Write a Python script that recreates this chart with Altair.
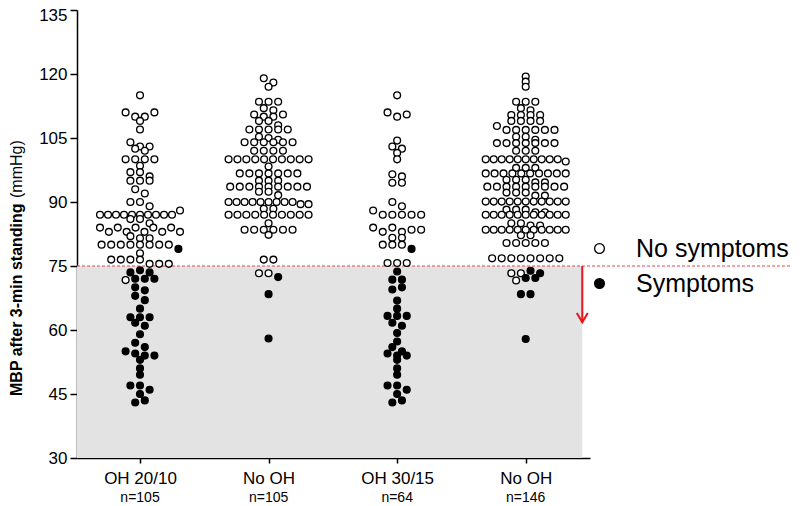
import altair as alt
import pandas as pd

# ---------------- data ----------------
groups = ["OH 20/10", "No OH", "OH 30/15", "No OH"]
n_labels = ["n=105", "n=105", "n=64", "n=146"]
status_names = ["No symptoms", "Symptoms"]

g1_open = [115, 111, 110, 110, 111, 109, 107, 104, 103, 102.5, 103, 102, 100, 100, 100, 100, 98.5, 97, 97, 96,
           95, 95, 95, 93, 92, 90, 90, 89,
           87, 87, 87, 87, 87, 87, 87, 87, 87, 87, 88, 86, 86, 85,
           84, 83, 84, 83, 84, 83, 84, 83, 84, 83, 82, 81.5, 81.5,
           80, 80, 80, 80, 80, 80, 80, 80, 78, 76.5, 76.5, 76.5, 76.5, 75.5, 75.5, 75.5, 71.7]
g1_filled = [79, 73.5, 74, 73.5, 72, 72, 72, 70, 69.3, 68, 67, 65, 63, 63, 63, 61.7, 61, 59, 57, 56, 55, 54.5,
             54, 54, 53, 51, 49.5, 47, 47, 46, 45, 43, 43.5]

g2_open = [119, 118, 117, 113.5, 113.5, 113.5, 112, 111.5, 110.5, 110, 110, 110.5, 109, 109, 108,
           107, 107, 107, 107, 107, 105.3, 105, 104.6,
           104, 104, 104, 104, 104, 104, 102, 102, 102, 102,
           100, 100, 100, 100, 100, 100, 100, 100, 100, 100, 98.3,
           96.7, 96.7, 96.7, 96.7, 96.7, 96.7, 96.7, 95, 95, 95,
           93.6, 93.6, 93.6, 93.6, 93.6, 93.6, 93.6, 93.6, 93.6, 92.4, 92.4, 91.6,
           90, 90, 90, 90, 90, 90, 90, 90, 90, 89.5, 89.5, 88.4, 88.4,
           87, 87, 87, 87, 87, 87, 87, 87, 87, 87, 85,
           83.5, 83.5, 83.5, 83.5, 83.5, 83.5, 82.3, 76.5, 76.5, 73.3, 73.3]
g2_filled = [72.4, 68.4, 58]

g3_open = [115, 111, 110, 110.5, 104.4, 103, 102.5, 101.5, 100, 96.5, 96, 94.5, 94.5, 90, 89, 88,
           87, 87, 87, 87, 87, 84, 83, 84, 83, 83.5, 83.5, 81.6, 81.6, 80, 80, 80, 75.7, 75.7, 75.7]
g3_filled = [79, 73.7, 71.8, 71.8, 69.5, 70, 66.9, 65, 63.3, 63.3, 63.3, 61.7, 61, 59.3, 57.3, 56, 55,
             54.5, 54, 54, 53, 51, 49.5, 47, 47, 46, 45, 43, 43.5]

g4_open = [119.4, 118.2, 117, 113.5, 113.5, 113.5, 112, 111.5, 110.4, 110.4, 110.4, 110.4,
           109, 109, 109, 109, 107.8, 106.9, 106.9, 106.9, 106.9, 106.9, 106.9, 105.3, 105.3, 104.6,
           103.8, 103.8, 103.8, 103.8, 103.8, 103.8, 103.8, 102, 102, 102,
           100, 100, 100, 100, 100, 100, 100, 100, 100, 100, 99.5, 98, 98, 98,
           96.7, 96.7, 96.7, 96.7, 96.7, 96.7, 96.7, 96.7, 96.7, 96.7, 95.2, 95.2, 95.2, 94.6, 94.6,
           93.6, 93.6, 93.6, 93.6, 93.6, 93.6, 93.6, 93.6, 93.6, 92.2, 92.2, 92.2, 91.5, 91.5,
           90.1, 90.1, 90.1, 90.1, 90.1, 90.1, 90.1, 90.1, 90.1, 90.1, 90.1, 88.2, 88.2, 88.2, 87.6, 87.6,
           87, 87, 87, 87, 87, 87, 87, 87, 87, 87, 87, 85, 85, 84.5, 84.5,
           83.5, 83.5, 83.5, 83.5, 83.5, 83.5, 83.5, 83.5, 83.5, 83.5, 83.5, 82.2, 82.2,
           80.4, 80.4, 80.4, 80.4, 80.4, 76.8, 76.8, 76.8, 76.8, 76.8, 76.8, 76.8, 76.8,
           73.3, 73.3, 71.6]
g4_filled = [73.9, 73.3, 72.2, 72.2, 68.4, 68.4, 57.9]

open_sets = [g1_open, g2_open, g3_open, g4_open]
filled_sets = [g1_filled, g2_filled, g3_filled, g4_filled]

threshold = [75]
shade_x = [-0.49, 3.44]
shade_y = [30, 75]
arrow_y = [75, 61.8]

# ---------------- layout constants ----------------
W, H = 513, 448
X_MIN, X_MAX = -0.49, 3.5
Y_MIN, Y_MAX = 30, 135
PX_X = W / (X_MAX - X_MIN)
D_MAX = 9.6       # preferred horizontal spacing of symbols within a row (px)
ROW_MAX = 80.0    # widest a row may get (px, centre to centre)
ROW_BIN = 1.05    # values within this range (mmHg) share a row


def row_layout(vals):
    """GraphPad-style scatter: close values share a row and spread sideways."""
    order = sorted(range(len(vals)), key=lambda i: (-vals[i], i))
    rows_, cur, start = [], [], None
    for i in order:
        if cur and start - vals[i] > ROW_BIN:
            rows_.append(cur)
            cur = []
        if not cur:
            start = vals[i]
        cur.append(i)
    if cur:
        rows_.append(cur)
    offs = [0.0] * len(vals)
    for r in rows_:
        r = sorted(r)
        n = len(r)
        d = D_MAX if n < 2 else min(D_MAX, ROW_MAX / (n - 1))
        for k, i in enumerate(r):
            offs[i] = (k - (n - 1) / 2) * d
    return offs


recs = []
for gi in range(4):
    vals = list(open_sets[gi]) + list(filled_sets[gi])
    stat = [status_names[0]] * len(open_sets[gi]) + [status_names[1]] * len(filled_sets[gi])
    offs = row_layout(vals)
    for v, s, o in zip(vals, stat, offs):
        recs.append({"gx": gi + o / PX_X, "mbp": v, "status": s})
pts = pd.DataFrame(recs)

FONT = "Liberation Sans"

xscale = alt.Scale(domain=[X_MIN, X_MAX], nice=False, zero=False)
yscale = alt.Scale(domain=[Y_MIN, Y_MAX], nice=False, zero=False)

label_expr = "[" + ",".join("'%s'" % g for g in groups) + "][round(datum.value)]"

shade = alt.Chart(pd.DataFrame({"x": [shade_x[0]], "x2": [shade_x[1]], "y": [shade_y[0]], "y2": [shade_y[1]]})).mark_rect(
    color="#e3e3e3").encode(
    x=alt.X("x:Q", scale=xscale, axis=alt.Axis(values=[0, 1, 2, 3], labelExpr=label_expr, title=None,
                                               grid=False, labelFontSize=17, labelFont=FONT, labelColor="black",
                                               tickSize=5, tickWidth=1.5, tickColor="black", domainColor="black",
                                               domainWidth=1.5, labelPadding=7, labelFlush=False)),
    x2="x2:Q",
    y=alt.Y("y:Q", scale=yscale, axis=alt.Axis(values=[30, 45, 60, 75, 90, 105, 120, 135], title=None, grid=False,
                                               labelFontSize=17, labelFont=FONT, labelColor="black",
                                               tickSize=7, tickWidth=1.5, tickColor="black", domainColor="black",
                                               domainWidth=1.5, labelPadding=3,
                                               labelOffset={"condition": {"test": "datum.value == 135", "value": 5},
                                                            "value": 0})),
    y2="y2:Q",
)

dash = alt.Chart(pd.DataFrame({"y": threshold})).mark_rule(
    color="#e2474f", strokeDash=[3, 2], strokeWidth=1.1, clip=False).encode(
    y=alt.Y("y:Q", scale=yscale), x=alt.value(0), x2=alt.value(800 - 77))

arrow_df = pd.DataFrame({"x": [shade_x[1]], "y": [arrow_y[0]], "y2": [arrow_y[1]]})
arrow_line = alt.Chart(arrow_df).mark_rule(color="#e8151b", strokeWidth=2).encode(
    x=alt.X("x:Q", scale=xscale), y=alt.Y("y:Q", scale=yscale), y2="y2:Q")
arrow_head = alt.Chart(arrow_df).mark_point(
    shape="M-1,-1.7L0,0L1,-1.7", size=121, stroke="#e8151b", strokeWidth=2, filled=False, opacity=1).encode(
    x=alt.X("x:Q", scale=xscale), y=alt.Y("y2:Q", scale=yscale))

points = alt.Chart(pts).mark_point(shape="circle", filled=True, size=46, stroke="black", strokeWidth=1.35,
                                   opacity=1).encode(
    x=alt.X("gx:Q", scale=xscale),
    y=alt.Y("mbp:Q", scale=yscale),
    fill=alt.Fill("status:N", scale=alt.Scale(domain=status_names, range=["white", "black"]),
                  legend=alt.Legend(title=None, orient="none", legendX=510, legendY=226, labelFontSize=25,
                                    labelFont=FONT, labelColor="black", symbolSize=95, symbolStrokeColor="black",
                                    symbolStrokeWidth=1.3, labelOffset=24, rowPadding=9, padding=0,
                                    labelLimit=400, symbolType="circle")),
)

nlab = alt.Chart(pd.DataFrame({"gx": [0, 1, 2, 3], "n": n_labels})).mark_text(
    fontSize=14, font=FONT, color="black", baseline="middle").encode(
    x=alt.X("gx:Q", scale=xscale), y=alt.value(488), text="n:N")

title_df = pd.DataFrame({"t1": ["MBP  after 3-min standing"], "t2": ["(mmHg)"]})
title1 = alt.Chart(title_df).mark_text(angle=270, align="left", baseline="middle", fontSize=16, fontWeight="bold",
                                       font=FONT, color="black").encode(
    text="t1:N", x=alt.value(-60), y=alt.value(386))
title2 = alt.Chart(title_df).mark_text(angle=270, align="left", baseline="middle", fontSize=16, fontWeight="normal",
                                       font=FONT, color="black").encode(
    text="t2:N", x=alt.value(-60), y=alt.value(188))

chart = alt.layer(shade, dash, arrow_line, arrow_head, points, nlab, title1, title2).properties(
    width=W, height=H, autosize=alt.AutoSizeParams(type="none"),
    padding={"left": 69, "top": 2, "right": 800 - 16 - 69 - W, "bottom": 48},
).configure(font=FONT, view=alt.ViewConfig(stroke="transparent", strokeWidth=0))

chart.save("out.html", embed_options={"renderer": "svg", "actions": False})
